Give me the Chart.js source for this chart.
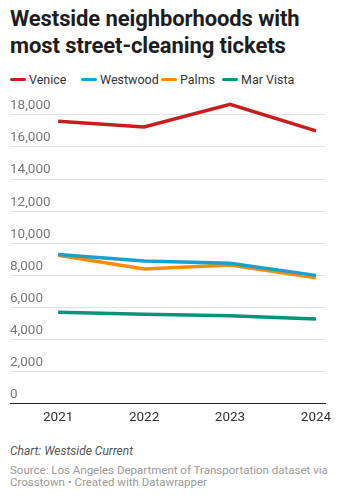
<!DOCTYPE html>
<html>
<head>
<meta charset="utf-8">
<script src="https://cdn.jsdelivr.net/npm/chart.js@4"></script>
<style>
  body { margin: 0; background: #fff; font-family: Roboto, sans-serif; width: 339px; height: 500px; overflow: hidden; position: relative; }
  h1 { position: absolute; left: 10px; top: 6px; margin: 0; font-size: 22px; line-height: 26.5px; font-weight: 700; color: #1d1d1d; letter-spacing: -0.1px; }
  #legend { position: absolute; left: 0; top: 72px; height: 16px; width: 339px; font-size: 12.5px; line-height: 16px; color: #333; white-space: nowrap; }
  #legend span.item { position: absolute; top: 0; }
  #legend span.swatch { display: inline-block; width: 16px; height: 3.5px; border-radius: 2px; vertical-align: middle; margin-right: 3px; position: relative; top: -1px; }
  #wrap { position: absolute; left: 0; top: 88px; width: 339px; height: 345px; }
  #byline { position: absolute; left: 10px; top: 444px; font-size: 12px; font-style: italic; color: #555; }
  #source { position: absolute; left: 10px; top: 465px; font-size: 11.5px; line-height: 11.5px; color: #999; }
</style>
</head>
<body>
<h1>Westside neighborhoods with<br>most street-cleaning tickets</h1>
<div id="legend"></div>
<div id="wrap"><canvas id="lineChart"></canvas></div>
<div id="byline">Chart: Westside Current</div>
<div id="source">Source: Los Angeles Department of Transportation dataset via<br>Crosstown • Created with Datawrapper</div>
<script>
// tickets per year
const years = [2021, 2022, 2023, 2024];
const venice = [17600, 17250, 18650, 17000];
const westwood = [9300, 8900, 8750, 8000];
const palms = [9250, 8400, 8650, 7850];
const marVista = [5700, 5580, 5480, 5280];
const yTicks = [0, 2000, 4000, 6000, 8000, 10000, 12000, 14000, 16000, 18000];

const series = [
    { label: 'Venice', data: venice, color: '#c71e1d' },
    { label: 'Westwood', data: westwood, color: '#18a1cd' },
    { label: 'Palms', data: palms, color: '#fa8c00' },
    { label: 'Mar Vista', data: marVista, color: '#09937a' }
];
const legendX = [10, 81, 161, 222];

// legend
const legend = document.getElementById('legend');
series.forEach((s, i) => {
    const item = document.createElement('span');
    item.className = 'item';
    item.style.left = legendX[i] + 'px';
    item.innerHTML = '<span class="swatch" style="background:' + s.color + '"></span>' + s.label;
    legend.appendChild(item);
});

const ctx = document.getElementById('lineChart').getContext('2d');
new Chart(ctx, {
    type: 'line',
    data: {
        datasets: series.map(s => ({
            label: s.label,
            data: s.data.map((v, i) => ({ x: years[i], y: v })),
            borderColor: s.color,
            backgroundColor: s.color,
            borderWidth: 3.5,
            borderCapStyle: 'butt',
            borderJoinStyle: 'miter',
            pointRadius: 0,
            tension: 0
        }))
    },
    options: {
        responsive: true,
        maintainAspectRatio: false,
        animation: false,
        layout: {
            padding: { left: 10, right: 14, top: 14, bottom: 1 }
        },
        plugins: {
            legend: { display: false },
            tooltip: { enabled: false }
        },
        scales: {
            x: {
                type: 'linear',
                min: 2020.44,
                max: 2024.105,
                afterBuildTicks: scale => { scale.ticks = years.map(v => ({ value: v })); },
                ticks: {
                    color: '#333',
                    font: { family: 'Roboto', size: 13.5 },
                    padding: 6,
                    maxRotation: 0,
                    callback: v => String(v)
                },
                grid: { display: false, drawTicks: false },
                border: { display: true, color: '#222', width: 1 }
            },
            y: {
                min: 0,
                max: 18800,
                afterBuildTicks: scale => { scale.ticks = yTicks.map(v => ({ value: v })); },
                ticks: {
                    mirror: true,
                    padding: 0,
                    labelOffset: -9,
                    color: '#777',
                    font: { family: 'Roboto', size: 13.5 },
                    callback: v => v.toLocaleString('en-US')
                },
                grid: { color: '#e2e2e2', lineWidth: 1, drawTicks: false },
                border: { display: false }
            }
        }
    }
});
</script>
</body>
</html>
